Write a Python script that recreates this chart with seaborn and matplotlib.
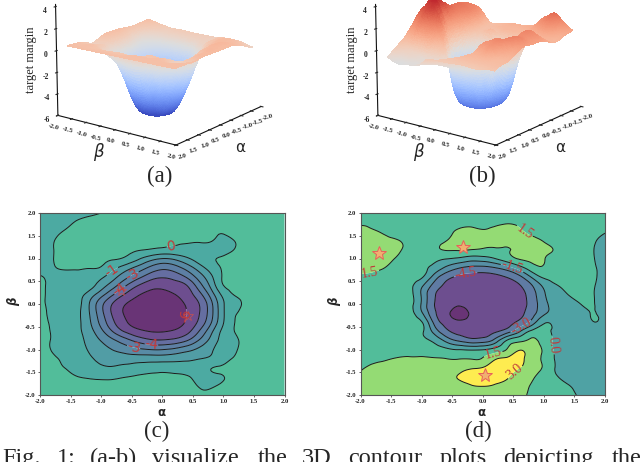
import numpy as np
import matplotlib
matplotlib.use("Agg")
import matplotlib.pyplot as plt
import matplotlib.tri as mtri
import seaborn as sns

alpha_grid = [-2.0,-1.8,-1.6,-1.4,-1.2,-1.0,-0.8,-0.6,-0.4,-0.2,0.0,0.2,0.4,0.6,0.8,1.0,1.2,1.4,1.6,1.8,2.0]
beta_grid = [2.0,1.8,1.6,1.4,1.2,1.0,0.8,0.6,0.4,0.2,0.0,-0.2,-0.4,-0.6,-0.8,-1.0,-1.2,-1.4,-1.6,-1.8,-2.0]

margin_c = [
 [-.4,-.4,-.35,-.3,-.2,0,.2,.3,.4,.5,.5,.5,.4,.4,.4,.4,.4,.4,.4,.4,.4],
 [-.4,-.35,-.2,.05,.25,.4,.5,.5,.5,.5,.5,.5,.5,.5,.4,.4,.4,.4,.4,.4,.4],
 [-.4,-.2,.03,.25,.4,.5,.6,.6,.6,.6,.6,.5,.5,.4,.1,.1,.3,.4,.4,.4,.4],
 [-.3,-.05,.2,.4,.5,.5,.6,.6,.6,.5,.4,.15,.12,.1,.05,-.2,.05,.3,.4,.4,.4],
 [-.3,-.03,.2,.4,.5,.5,.4,.25,.1,-.03,-.2,-.25,-.25,-.25,-.3,-.3,.05,.3,.4,.4,.4],
 [-.3,-.03,.2,.3,.3,.2,.08,-.15,-.8,-1.5,-2.1,-1.8,-1.0,-.5,-.1,.1,.3,.4,.4,.4,.4],
 [-.2,-.05,.08,.1,.05,-.05,-.7,-1.5,-2.3,-3.3,-4,-3.6,-2.7,-1.4,-.5,.1,.3,.4,.4,.4,.4],
 [.03,-.1,-.2,-.25,-.4,-.8,-1.6,-2.7,-3.6,-4.6,-5,-4.7,-3.9,-2.6,-1.2,.1,.2,.35,.4,.4,.4],
 [.1,-.1,-.2,-.3,-.6,-1.4,-2.5,-4,-5.2,-5.85,-5.9,-5.6,-5.5,-3.5,-1.6,-.03,.2,.35,.4,.4,.4],
 [.1,-.1,-.2,-.5,-1.4,-2.6,-4.1,-5.3,-6.1,-6.3,-6.3,-6.1,-5.6,-4.6,-2.6,-.7,.05,.3,.4,.4,.4],
 [.1,-.1,-.2,-.6,-1.95,-4,-5.4,-6.2,-6.4,-6.5,-6.5,-6.4,-6,-5.3,-3.5,-.85,-.2,.2,.35,.4,.4],
 [.15,-.08,-.2,-.7,-1.8,-3.7,-5.4,-6.25,-6.45,-6.5,-6.5,-6.4,-6.1,-5.2,-3.5,-.85,-.05,.2,.3,.4,.4],
 [.15,-.05,-.2,-.7,-1.7,-3.4,-5,-6.1,-6.4,-6.5,-6.45,-6.35,-6.1,-5,-3.3,-.85,.03,.2,.3,.4,.4],
 [.2,-.03,-.2,-.7,-1.5,-2.7,-4.3,-5.4,-6,-6.2,-6.2,-6.1,-5.6,-4.1,-2.1,-.7,.03,.2,.3,.4,.4],
 [.2,-.03,-.2,-.6,-1.3,-2,-2.7,-3.5,-4.4,-5,-5.1,-4.9,-4.3,-3,-1.6,-.6,-.08,.2,.3,.4,.4],
 [.2,-.03,-.25,-.55,-1.1,-1.6,-2.1,-2.5,-2.8,-3,-3,-2.7,-2.2,-1.7,-1.1,-.5,-.05,.2,.3,.4,.4],
 [.25,.08,-.1,-.4,-.9,-1.1,-1.3,-1.4,-1.4,-1.3,-1.4,-1.3,-1.2,-1.1,-.8,-.3,.1,.25,.3,.4,.4],
 [.3,.15,.0,-.2,-.6,-1.05,-1.05,-.75,-.55,-.45,-.35,-.4,-.45,-.3,-.03,.1,.3,.35,.35,.4,.4],
 [.3,.3,.2,.02,-.1,-.2,-.2,-.03,.1,.2,.2,.15,.05,-.15,-.2,-.02,.2,.3,.35,.4,.4],
 [.4,.4,.35,.3,.25,.25,.3,.35,.4,.4,.4,.35,.2,-.03,-.08,.15,.3,.35,.4,.4,.4],
 [.4,.4,.4,.35,.35,.35,.35,.4,.4,.4,.4,.4,.3,.12,.1,.25,.35,.4,.4,.4,.4],
]

margin_d = [
 [1.0,1.0,1.0,.9,.8,.7,.7,.8,.9,.9,.9,.9,.9,.9,.8,.7,.6,.5,.4,.3,.2],
 [1.2,1.2,1.1,1.0,.8,.7,.8,1,1.2,1.3,1.3,1.3,1.4,1.3,1.1,.8,.6,.5,.4,.2,.1],
 [2,1.6,1.35,1.0,.8,.7,.8,1.2,1.6,1.65,1.55,1.7,1.9,1.7,1.2,.9,.6,.5,.4,.2,.05],
 [2.2,2.1,1.8,1.55,1.1,.8,1.0,1.45,1.9,1.9,1.8,1.8,1.9,2,1.8,1.4,.9,.6,.4,.1,-.2],
 [2.3,2.5,2.2,1.7,1.1,.7,1.2,1.6,1.65,1.55,1.4,1.4,1.45,1.7,1.9,1.7,1.4,.8,.4,.03,-.2],
 [1.9,2.2,1.9,1.4,.9,.5,.4,.1,-.2,-.7,-.6,.0,.9,1.6,1.75,1.55,1.1,.7,.4,.05,-.3],
 [1.6,1.8,1.5,1.1,.7,.3,-.4,-1.6,-3,-3.6,-3.7,-3.3,-2.2,-.6,.9,1.4,.9,.7,.4,.1,-.3],
 [1.4,1.2,1,.8,.5,.2,-1.9,-4.5,-5,-5.2,-5.2,-5.1,-4.8,-3.9,-1,.3,.5,.6,.4,.1,-.2],
 [1.0,.9,.8,.6,.3,-1.2,-3.9,-5,-5.2,-5.3,-5.3,-5.3,-5.2,-4.9,-3.6,-1.1,-.1,.3,.3,.05,-.2],
 [.9,.8,.7,.6,.4,-1.5,-4.8,-5.2,-5.3,-5.4,-5.4,-5.4,-5.3,-5.1,-4,-1.5,-.6,0,.2,.03,-.2],
 [.8,.8,.7,.6,.4,-1.5,-4.9,-5.3,-5.5,-5.5,-5.5,-5.4,-5.4,-5.1,-4.2,-1.8,-1.0,-.5,0,.03,-.2],
 [.8,.8,.7,.6,.35,-1.0,-4.7,-5.4,-8,-5.6,-5.5,-5.4,-5.3,-5,-4,-1.8,-1.1,-.8,-.3,.02,-.2],
 [.7,.7,.6,.5,.3,.1,-3.7,-5.1,-5.5,-5.5,-5.5,-5.4,-5.2,-4.8,-2.7,-.2,-.5,-.9,-.6,-.03,-.3],
 [.6,.6,.5,.4,.3,.2,-1.9,-4.8,-5.1,-5.2,-5.2,-5.1,-4.5,-1.5,.3,.4,-.3,-.8,-.8,-.5,-.5],
 [.6,.5,.4,.35,.3,.2,-.3,-1.9,-3.6,-4.6,-4.55,-2.7,.1,1.1,1.7,.9,-.3,-.8,-.9,-.8,-.7],
 [.6,.5,.5,.6,.7,.7,.6,.3,-.05,-.2,-.1,.5,1.6,2.9,2.2,1.3,-.3,-.7,-.9,-.9,-.9],
 [.8,1.1,1.3,1.6,1.7,1.7,1.6,1.5,1.45,1.45,1.6,2.8,3.2,3.3,2.3,1.2,-.15,-.5,-.8,-1.0,-1.0],
 [1.4,1.7,1.9,2.0,2.1,2.1,2.1,2.2,2.4,2.8,3.05,3.7,3.4,3.05,2.2,1.3,-.1,-.4,-.8,-1.1,-1.2],
 [1.55,1.9,2.1,2.2,2.3,2.3,2.4,2.7,3.05,3.5,3.9,3.5,3.1,2.4,1.7,.9,.1,-.3,-.6,-.9,-1.1],
 [1.8,2,2.2,2.3,2.3,2.3,2.4,2.5,2.6,2.9,3.05,2.9,2.6,2.0,1.4,.8,.4,.05,-.3,-.6,-.9],
 [1.8,2,2.1,2.1,2.1,2.2,2.3,2.3,2.3,2.4,2.4,2.3,2.1,1.9,1.2,.8,.5,.2,-.1,-.4,-.7],
]

levels_c = [-8,-6,-5,-4,-3,-2,-1,0,2]
levels_d = [-8,-6,-4.5,-3,-1.5,0,1.5,3,5]
tones_c = [0.0,0.09,0.22,0.30,0.36,0.45,0.52,0.62]
tones_d = [0.0,0.09,0.28,0.38,0.48,0.62,0.80,1.0]
labels_c = [(.14,1.3),(-.79,.67),(-.5,.68),(-.68,.28),(-.48,-1.02),(-.18,-.93),(.42,-.26)]
labels_d = [(.67,1.57),(-1.86,.76),(.49,.83),(-.29,.72),(.61,-.46),(1.15,-.9),(.16,-1.04),(.5,-1.45)]
stars_c_a, stars_c_b = [-.68,.42], [.28,-.26]
stars_d_a, stars_d_b = [-1.7,-.33,.03], [1.12,1.25,-1.55]
ticks = [-2.0,-1.5,-1.0,-0.5,0.0,0.5,1.0,1.5,2.0]
ztick_vals = [-6,-4,-2,0,2,4]

sns.set_style("white")
plt.rcParams['font.family'] = ['Liberation Serif', 'DejaVu Sans']
SERIF = 'Liberation Serif'
W, H = 640, 462
fig = plt.figure(figsize=(6.4, 4.62), dpi=100)
viridis = sns.color_palette("viridis", as_cmap=True)
coolwarm = sns.color_palette("coolwarm", as_cmap=True)

def soft(t):
    c = np.array(viridis(t)[:3])
    return tuple(0.8*c + 0.2)

def settle(z):
    # light settling of the hand-read wall of the well, the rim stays as read
    k = np.array([.15, .7, .15])
    p = np.pad(z, 1, mode='edge')
    s = np.apply_along_axis(lambda r: np.convolve(r, k, mode='same'), 0, p)
    s = np.apply_along_axis(lambda r: np.convolve(r, k, mode='same'), 1, s)[1:-1, 1:-1]
    return np.where(z < -0.8, s, z)

def refined(zrows, trim=0):
    a = np.array(alpha_grid)
    b = np.array(beta_grid)
    z = settle(np.array(zrows, dtype=float))
    if trim:
        a, b, z = a[trim:-trim], b[trim:-trim], z[trim:-trim, trim:-trim]
    A, B = np.meshgrid(a, b)
    tri = mtri.Triangulation(A.ravel(), B.ravel())
    refiner = mtri.UniformTriRefiner(tri)
    return refiner.refine_field(z.ravel(), subdiv=3)

def contour_panel(x0, zrows, levels, tones, labels, fmt, family, sa, sb, star):
    ax = fig.add_axes([x0/W, (H-395)/H, 244.5/W, 182/H])
    t, zz = refined(zrows)
    ax.tricontourf(t, zz, levels=levels, colors=[soft(v) for v in tones], antialiased=True)
    cs = ax.tricontour(t, zz, levels=levels[1:-1], colors='#1a1a1a', linewidths=0.7, linestyles='solid')
    txt = ax.clabel(cs, manual=labels, fmt=fmt, fontsize=10, colors='#c03a3a', inline=True, inline_spacing=1)
    for s in txt:
        s.set_family(family)
    ax.plot(sa, sb, linestyle='none', marker='*', **star)
    ax.set_xlim(-2, 2); ax.set_ylim(-2, 2)
    ax.set_xticks(ticks); ax.set_yticks(ticks)
    ax.set_xticklabels([f"{v:.1f}" for v in ticks], fontsize=4.8, fontweight='bold', family=SERIF)
    ax.set_yticklabels([f"{v:.1f}" for v in ticks], fontsize=4.8, fontweight='bold', family=SERIF)
    ax.tick_params(length=1.5, width=0.5, pad=1.5, left=True, bottom=True, colors='#222222')
    for sp in ax.spines.values():
        sp.set_visible(True); sp.set_color('#555555'); sp.set_linewidth(0.8)
    return ax

contour_panel(40, margin_c, levels_c, tones_c, labels_c, lambda v: f"{v:.0f}", 'DejaVu Sans', stars_c_a, stars_c_b,
              dict(ms=7, mfc='none', mec='#c85050', mew=0.5))
contour_panel(360.5, margin_d, levels_d, tones_d, labels_d, lambda v: f"{v:.1f}", SERIF, stars_d_a, stars_d_b,
              dict(ms=10, mfc='#f0b070', mec='#e8605a', mew=0.7))

def surface_panel(x0, zrows, floor):
    ax = fig.add_axes([(x0-14)/W, (H-190)/H, 260/W, 260/H], projection='3d')
    t, zz = refined(zrows, trim=1)
    ax.plot_trisurf(t, np.maximum(zz, floor), cmap=coolwarm, vmin=-6, vmax=4, linewidth=0, antialiased=False, shade=False)
    ax.view_init(elev=16, azim=37)
    ax.set_xlim(-2, 2); ax.set_ylim(-2, 2); ax.set_zlim(-6, 4.2)
    ax.set_box_aspect((150, 150, 117), zoom=0.885)
    ax.set_xticks(ticks); ax.set_yticks(ticks); ax.set_zticks(ztick_vals)
    ax.set_xticklabels([f"{v:.1f}" for v in ticks], fontsize=5, fontweight='bold', family=SERIF, rotation=15)
    ax.set_yticklabels([f"{v:.1f}" for v in ticks], fontsize=5, fontweight='bold', family=SERIF, rotation=-15)
    ax.set_zticklabels([str(v) for v in ztick_vals], fontsize=5.5, fontweight='bold', family=SERIF)
    ax.tick_params(pad=-3)
    ax.grid(False)
    ax.patch.set_alpha(0)
    for axis in (ax.xaxis, ax.yaxis, ax.zaxis):
        axis.pane.set_visible(False)
        axis.line.set_color('#111111')
        axis.line.set_linewidth(0.8)
    return ax

surface_panel(41, margin_c, -6.6)
surface_panel(361, margin_d, -5.9)

def put(x, y, s, **kw):
    fig.text(x/W, 1-y/H, s, **kw)

for x0 in (0, 320.5):
    put(x0+31, 60, 'target margin', rotation=90, fontsize=9, family=SERIF, ha='center', va='center')
    put(x0+240, 147, 'α', fontsize=11, family='DejaVu Sans', ha='center', va='center')
    put(x0+98, 152, 'β', fontsize=12, style='italic', family='DejaVu Sans', ha='center', va='center')
    put(x0+161, 413, 'α', fontsize=8.5, fontweight='bold', family='DejaVu Sans', ha='center', va='center')
    put(x0+14, 302, 'β', fontsize=8.5, fontweight='bold', style='italic', rotation=90, family='DejaVu Sans', ha='center', va='center')

for x, y, s in [(160,182,'(a)'),(482,182,'(b)'),(157,437,'(c)'),(478,437,'(d)')]:
    put(x, y, s, fontsize=16.5, family=SERIF, ha='center', va='baseline')

words = [(2,'Fig.'),(57,'1:'),(90,'(a-b)'),(152,'visualize'),(258,'the'),(302,'3D'),
         (348,'contour'),(440,'plots'),(503,'depicting'),(612,'the')]
for x, s in words:
    put(x, 464, s, fontsize=17.5, family=SERIF, ha='left', va='baseline')

fig.savefig('out.png', dpi=100)
